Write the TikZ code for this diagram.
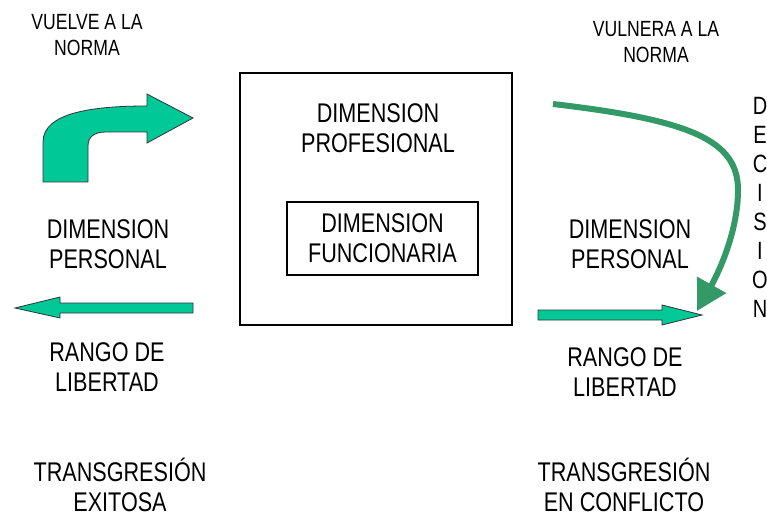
\documentclass[tikz,border=0pt]{standalone}
\usepackage{fontspec}
\setmainfont{Liberation Sans}[FakeStretch=0.8]
\usetikzlibrary{arrows.meta}
\definecolor{teal}{RGB}{0,200,150}
\definecolor{dgreen}{RGB}{51,153,102}
\begin{document}
\begin{tikzpicture}[x=1pt,y=-1pt,
  big/.style={align=center,inner sep=0pt,font=\fontsize{27}{30.5}\selectfont},
  small/.style={align=center,inner sep=0pt,font=\fontsize{22}{26}\selectfont},
  blockarrow/.style={fill=teal,draw=black!80,line width=0.8pt,line join=miter},
  frame/.style={draw=black,line width=1.2pt}]
\useasboundingbox (0,0) rectangle (767,518);
% center boxes
\draw[frame] (240,73) rectangle (512,325);
\node[big] (prof) at (378,128) {DIMENSION\\PROFESIONAL};
\node[frame,minimum width=191pt,minimum height=73pt,inner sep=0pt] (func) at (382.5,238.5) {};
\node[big] (funct) at (382.5,238) {DIMENSION\\FUNCIONARIA};
% left side
\node[small] (vuelve) at (87,35) {VUELVE A LA\\NORMA};
\draw[blockarrow] (43,182) -- (43,142) .. controls (43,112) and (95,106) .. (147,106) -- (147,94) -- (193,118) -- (147,143) -- (147,132) -- (106,132) .. controls (94,132) and (88,137) .. (88,146) -- (88,182) -- cycle;
\node[big] (dpl) at (108,244) {DIMENSION\\PERSONAL};
\draw[blockarrow] (193,303) -- (60,303) -- (60,297) -- (15,308) -- (60,318) -- (60,313) -- (193,313) -- cycle;
\node[big] (rl) at (107,367) {RANGO DE\\LIBERTAD};
\node[big] (te) at (120,485) {TRANSGRESIÓN\\EXITOSA};
% right side
\node[small] (vulnera) at (656,42) {VULNERA A LA\\NORMA};
\node[big] (dpr) at (630,244) {DIMENSION\\PERSONAL};
\draw[blockarrow] (538,310) -- (662,310) -- (662,305) -- (702,315) -- (662,325) -- (662,320) -- (538,320) -- cycle;
\node[big] (rr) at (625,372) {RANGO DE\\LIBERTAD};
\node[big] (tc) at (624,485) {TRANSGRESIÓN\\EN CONFLICTO};
\coordinate (cs) at (553,104);
\coordinate (ce) at (697,311);
\draw[dgreen,line width=6pt,-{Triangle[length=30pt,width=32pt]}] (cs) .. controls (690,120) and (738,140) .. (738,190) .. controls (738,230) and (720,270) .. (ce);
\node[big,font=\fontsize{25}{29}\selectfont] (dec) at (760,207) {D\\E\\C\\I\\S\\I\\O\\N};
\end{tikzpicture}
\end{document}
